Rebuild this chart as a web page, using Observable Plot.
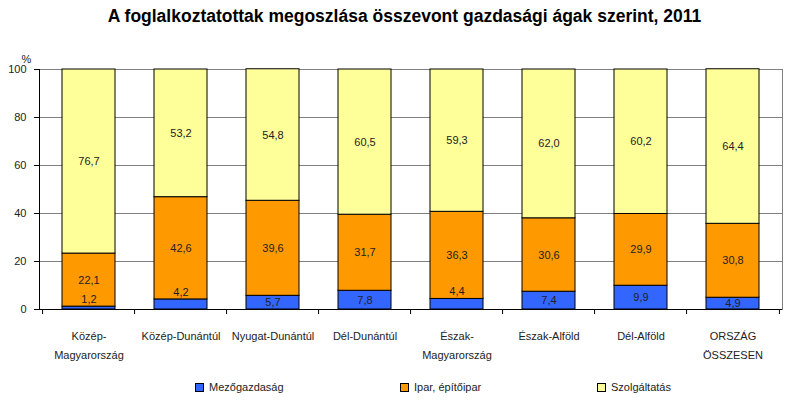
<!DOCTYPE html>
<html>
<head>
<meta charset="utf-8">
<script src="https://cdn.jsdelivr.net/npm/d3@7"></script>
<script src="https://cdn.jsdelivr.net/npm/@observablehq/plot@0.6"></script>
<style>
  body { margin: 0; background: #fff; font-family: "Liberation Sans", Arial, sans-serif; }
  #wrap { position: relative; width: 795px; height: 411px; overflow: hidden; }
  #title { box-sizing: border-box; height: 40px; padding-top: 8px; line-height: 16px; text-align: center;
           font-weight: bold; font-size: 17.5px; color: #000; padding-left: 14px; white-space: nowrap; }
  #legend { position: relative; height: 31px; font-size: 11px; color: #222; }
  .item { position: absolute; top: 0; display: flex; align-items: center; height: 14px; }
  .sw { width: 7px; height: 7px; border: 1px solid #000; margin-right: 5px; }
  svg { display: block; }
</style>
</head>
<body>
<div id="wrap">
  <div id="title">A foglalkoztatottak megoszlása összevont gazdasági ágak szerint, 2011</div>
  <div id="chart"></div>
  <div id="legend"></div>
</div>
<script>
const categories = ["Közép-Magyarország", "Közép-Dunántúl", "Nyugat-Dunántúl", "Dél-Dunántúl", "Észak-Magyarország", "Észak-Alföld", "Dél-Alföld", "Ország összesen"];
const tickLabels = ["Közép-\nMagyarország", "Közép-Dunántúl", "Nyugat-Dunántúl", "Dél-Dunántúl", "Észak-\nMagyarország", "Észak-Alföld", "Dél-Alföld", "ORSZÁG\nÖSSZESEN"];
const series = ["Mezőgazdaság", "Ipar, építőipar", "Szolgáltatás"];
const mezogazdasag = [1.2, 4.2, 5.7, 7.8, 4.4, 7.4, 9.9, 4.9];
const ipar = [22.1, 42.6, 39.6, 31.7, 36.3, 30.6, 29.9, 30.8];
const szolgaltatas = [76.7, 53.2, 54.8, 60.5, 59.3, 62.0, 60.2, 64.4];
const yTicks = [0, 20, 40, 60, 80, 100];
const colors = ["#3366FF", "#FF9900", "#FFFF99"];

const seriesValues = [mezogazdasag, ipar, szolgaltatas];
const rows = [];
categories.forEach((c, i) => {
  let base = 0;
  seriesValues.forEach((vals, s) => {
    const v = vals[i];
    rows.push({cat: c, series: series[s], value: v, base, top: base + v, small: s === 0 && v < 4.5});
    base += v;
  });
});

const W = 795, H = 340, mT = 29, mB = 71, mL = 39, mR = 13;
const step = (W - mL - mR) / categories.length;
const fmt = v => v.toFixed(1).replace(".", ",");

const chart = Plot.plot({
  width: W, height: H,
  marginTop: mT, marginBottom: mB, marginLeft: mL, marginRight: mR,
  style: {fontFamily: "'Liberation Sans', Arial, sans-serif", fontSize: "11px", color: "#222", background: "#fff"},
  x: {domain: categories, paddingInner: 0.42, paddingOuter: 0.21},
  y: {domain: [0, 100]},
  color: {domain: series, range: colors},
  marks: [
    Plot.gridY(yTicks.slice(1), {stroke: "#808080", strokeOpacity: 1}),
    Plot.frame({anchor: "right", stroke: "#808080"}),
    Plot.rectY(rows, {x: "cat", y1: "base", y2: "top", fill: "series", stroke: "#000", strokeWidth: 1}),
    Plot.text(rows.filter(d => !d.small), {x: "cat", y: d => (d.base + d.top) / 2, text: d => fmt(d.value), fill: "#222"}),
    Plot.text(rows.filter(d => d.small), {x: "cat", y: "top", dy: -7, text: d => fmt(d.value), fill: "#222"}),
    Plot.ruleX(categories, {x: d => d, dx: -step / 2, insetTop: H - mT - mB, insetBottom: -5, stroke: "#000"}),
    Plot.ruleX(categories.slice(-1), {x: d => d, dx: step / 2, insetTop: H - mT - mB, insetBottom: -5, stroke: "#000"}),
    Plot.frame({anchor: "left", stroke: "#000"}),
    Plot.ruleY([0], {stroke: "#000"}),
    Plot.axisY({ticks: yTicks, tickSize: 5, tickPadding: 8, label: null, stroke: "#000"}),
    Plot.axisX({tickSize: 0, tickPadding: 16, lineHeight: 1.8, label: null, tickFormat: d => tickLabels[categories.indexOf(d)]}),
    Plot.text(["%"], {frameAnchor: "top-left", dx: -18, dy: -14, text: d => d, fill: "#222"})
  ]
});
document.getElementById("chart").appendChild(chart);

const legendLefts = [195, 400, 597];
const legend = document.getElementById("legend");
series.forEach((s, i) => {
  const item = document.createElement("div");
  item.className = "item";
  item.style.left = legendLefts[i] + "px";
  const sw = document.createElement("div");
  sw.className = "sw";
  sw.style.background = colors[i];
  const t = document.createElement("span");
  t.textContent = s;
  item.appendChild(sw);
  item.appendChild(t);
  legend.appendChild(item);
});
</script>
</body>
</html>
